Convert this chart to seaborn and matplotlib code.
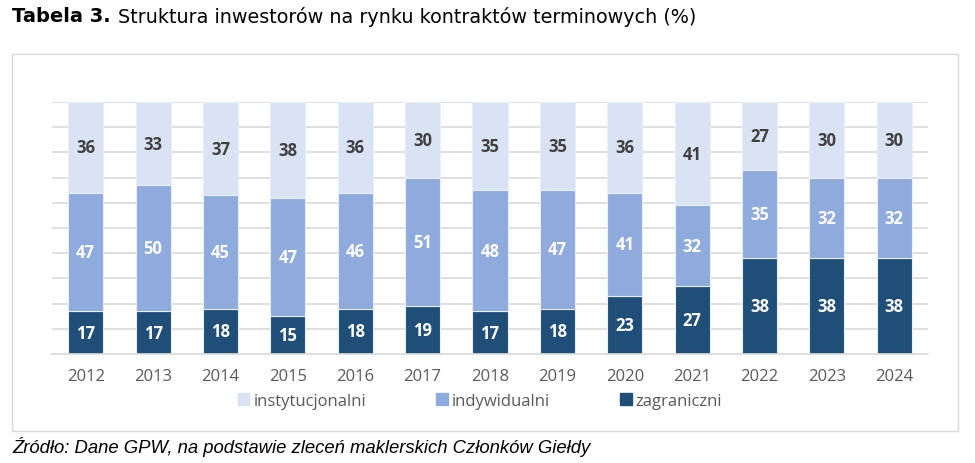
import pandas as pd
import matplotlib.pyplot as plt
import seaborn as sns
from matplotlib.patches import Rectangle, Patch

years = [2012, 2013, 2014, 2015, 2016, 2017, 2018, 2019, 2020, 2021, 2022, 2023, 2024]
zagraniczni = [17, 17, 18, 15, 18, 19, 17, 18, 23, 27, 38, 38, 38]
indywidualni = [47, 50, 45, 47, 46, 51, 48, 47, 41, 32, 35, 32, 32]
instytucjonalni = [36, 33, 37, 38, 36, 30, 35, 35, 36, 41, 27, 30, 30]

c_inst = '#DAE3F3'
c_indy = '#8FAADC'
c_zagr = '#1F4E79'

df = pd.DataFrame({
    'rok': [str(y) for y in years],
    'zagraniczni': zagraniczni,
    'indywidualni': indywidualni,
    'instytucjonalni': instytucjonalni,
})
df['b_indy'] = df['zagraniczni']
df['b_inst'] = df['zagraniczni'] + df['indywidualni']

sns.set_theme(style='white')
plt.rcParams['font.family'] = ['Open Sans', 'DejaVu Sans']

fig = plt.figure(figsize=(9.75, 4.64), dpi=100)
ax = fig.add_axes([52 / 975, 1 - 355 / 464, 876 / 975, 252 / 464])

# outer frame of the chart
fig.patches.append(Rectangle((12 / 975, 1 - 432 / 464), 946 / 975, 377 / 464,
                             transform=fig.transFigure, fill=False,
                             edgecolor='#D9D9D9', linewidth=1.0, zorder=0))

for y in range(10, 101, 10):
    ax.axhline(y, color='#D9D9D9', linewidth=1.2, zorder=0)

layers = [
    ('zagraniczni', None, c_zagr, 'white'),
    ('indywidualni', 'b_indy', c_indy, 'white'),
    ('instytucjonalni', 'b_inst', c_inst, '#404040'),
]
for col, bcol, color, tcol in layers:
    kw = {} if bcol is None else {'bottom': df[bcol].values}
    sns.barplot(data=df, x='rok', y=col, color=color, width=0.52,
                edgecolor='#E8EEF8', linewidth=0.8, saturation=1, ax=ax, zorder=2, **kw)
    bases = df[bcol] if bcol else [0] * len(df)
    for i, (v, b) in enumerate(zip(df[col], bases)):
        ax.text(i, b + v / 2, str(v), ha='center', va='center', color=tcol,
                fontsize=12, fontweight='bold', zorder=3)

ax.set_xlim(-0.5, 12.5)
ax.set_ylim(0, 100)
ax.set_xlabel('')
ax.set_ylabel('')
ax.set_yticks([])
for s in ['top', 'right', 'left']:
    ax.spines[s].set_visible(False)
ax.spines['bottom'].set_color('#D9D9D9')
ax.tick_params(axis='x', length=0, pad=10, labelsize=12, labelcolor='#595959')

handles = [Patch(color=c_inst, label='instytucjonalni'),
           Patch(color=c_indy, label='indywidualni'),
           Patch(color=c_zagr, label='zagraniczni')]
leg = fig.legend(handles=handles, loc='center', ncol=3, frameon=False,
                 bbox_to_anchor=(480 / 975, 1 - 402 / 464), fontsize=12,
                 handlelength=0.7, handleheight=0.7, handletextpad=0.25,
                 columnspacing=4.2)
for t in leg.get_texts():
    t.set_color('#595959')

t1 = fig.text(12 / 975, 1 - 17 / 464, 'Tabela 3.', fontsize=14, fontweight='bold',
              family='DejaVu Sans', va='center', ha='left', color='black')
fig.canvas.draw()
bb = t1.get_window_extent()
fig.text((bb.x1 + 7) / 975, 1 - 17 / 464,
         'Struktura inwestorów na rynku kontraktów terminowych (%)',
         fontsize=13.8, family='DejaVu Sans', va='center', ha='left', color='black')
fig.text(12 / 975, 1 - 447 / 464, 'Źródło: Dane GPW, na podstawie zleceń maklerskich Członków Giełdy',
         fontsize=13.3, family='Liberation Sans', style='italic', va='center', ha='left', color='black')

fig.savefig('out.png', dpi=100)
